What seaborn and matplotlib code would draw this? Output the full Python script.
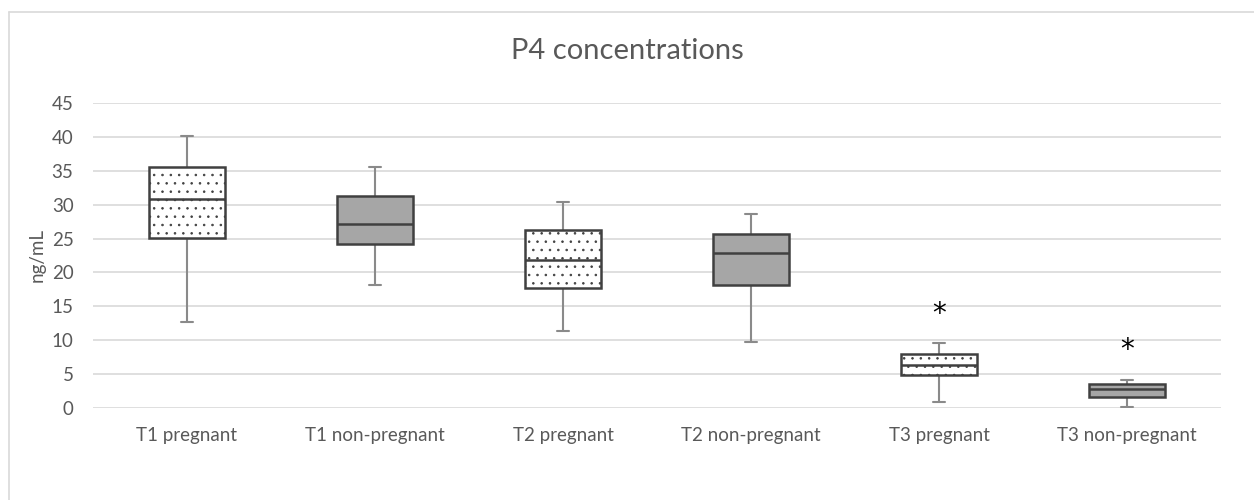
import numpy as np
import pandas as pd
import matplotlib
matplotlib.use("Agg")
import matplotlib.pyplot as plt
import seaborn as sns
from matplotlib.lines import Line2D
from matplotlib.patches import PathPatch

# ---- data ----
categories = ["T1 pregnant", "T1 non-pregnant", "T2 pregnant",
              "T2 non-pregnant", "T3 pregnant", "T3 non-pregnant"]
mins    = [12.7, 18.1, 11.3,  9.8, 0.85, 0.2]
q1s     = [25.1, 24.2, 17.7, 18.1, 4.8, 1.6]
medians = [30.9, 27.2, 21.8, 22.9, 6.4, 2.8]
q3s     = [35.6, 31.3, 26.2, 25.7, 8.0, 3.5]
maxs    = [40.2, 35.6, 30.4, 28.6, 9.6, 4.2]
star_cats = ["T3 pregnant", "T3 non-pregnant"]
star_y = [13.8, 8.5]
yticks = [0, 5, 10, 15, 20, 25, 30, 35, 40, 45]

# five summary values per group -> quartiles reproduce exactly with whis=(0,100)
rows = []
for c, a, b, m, d, e in zip(categories, mins, q1s, medians, q3s, maxs):
    for v in (a, b, m, d, e):
        rows.append({"group": c, "value": v})
df = pd.DataFrame(rows)

sns.set_theme(style="white")
plt.rcParams["font.family"] = ["Lato", "DejaVu Sans"]
plt.rcParams["hatch.linewidth"] = 0.6

fig = plt.figure(figsize=(12.54, 5.0), dpi=100)
ax = fig.add_axes([93/1254, 1-408/500, (1221-93)/1254, (408-103)/500])

fills = ["#ffffff", "#a6a6a6", "#ffffff", "#a6a6a6", "#ffffff", "#a6a6a6"]
sns.boxplot(data=df, x="group", y="value", hue="group", order=categories,
            hue_order=categories, palette=fills, legend=False,
            whis=(0, 100), width=0.4, dodge=False, ax=ax,
            linewidth=1.5, linecolor="#404040",
            boxprops=dict(edgecolor="#404040", linewidth=1.8, zorder=2),
            medianprops=dict(color="#404040", linewidth=1.8, zorder=4),
            whiskerprops=dict(color="#8a8a8a", linewidth=1.5, zorder=1.5),
            capprops=dict(color="#8a8a8a", linewidth=1.5, zorder=1.5),
            showfliers=False)

# dotted hatch on "pregnant" boxes
boxes = [p for p in ax.patches if isinstance(p, PathPatch)]
for i, p in enumerate(boxes):
    if "non" not in categories[i]:
        p.set_hatch("..")
    p.set_zorder(2)

# shorten caps
for ln in ax.lines:
    x = ln.get_xdata()
    y = ln.get_ydata()
    if len(x) == 2 and y[0] == y[1] and abs(x[1] - x[0]) > 0.01:
        if abs(x[1] - x[0]) < 0.35:
            cx = (x[0] + x[1]) / 2
            ln.set_xdata([cx - 0.03, cx + 0.03])
        else:
            ln.set_zorder(4)

for c, y in zip(star_cats, star_y):
    ax.text(categories.index(c), y, "*", ha="center", va="center",
            fontsize=20, color="#000000", family="DejaVu Sans")

ax.set_ylim(0, 45)
ax.set_xlim(-0.5, len(categories) - 0.5)
ax.set_yticks(yticks)
ax.yaxis.grid(True, color="#d9d9d9", linewidth=1.2)
ax.set_axisbelow(True)
for s in ax.spines.values():
    s.set_visible(False)
ax.tick_params(axis="both", length=0, labelsize=13.5, labelcolor="#595959")
ax.tick_params(axis="x", pad=14)
ax.tick_params(axis="y", pad=14)
ax.set_xlabel("")
ax.set_ylabel("ng/mL", fontsize=13.5, color="#595959", labelpad=4)
fig.text(0.5, 0.898, "P4 concentrations", ha="center", va="center",
         fontsize=21, color="#595959")

# chart border (left and top visible)
fig.add_artist(Line2D([9/1254, 9/1254], [0, 1-12/500], color="#d9d9d9", lw=1.2))
fig.add_artist(Line2D([9/1254, 1], [1-12/500, 1-12/500], color="#d9d9d9", lw=1.2))

fig.savefig("out.png", dpi=100, facecolor="white")
